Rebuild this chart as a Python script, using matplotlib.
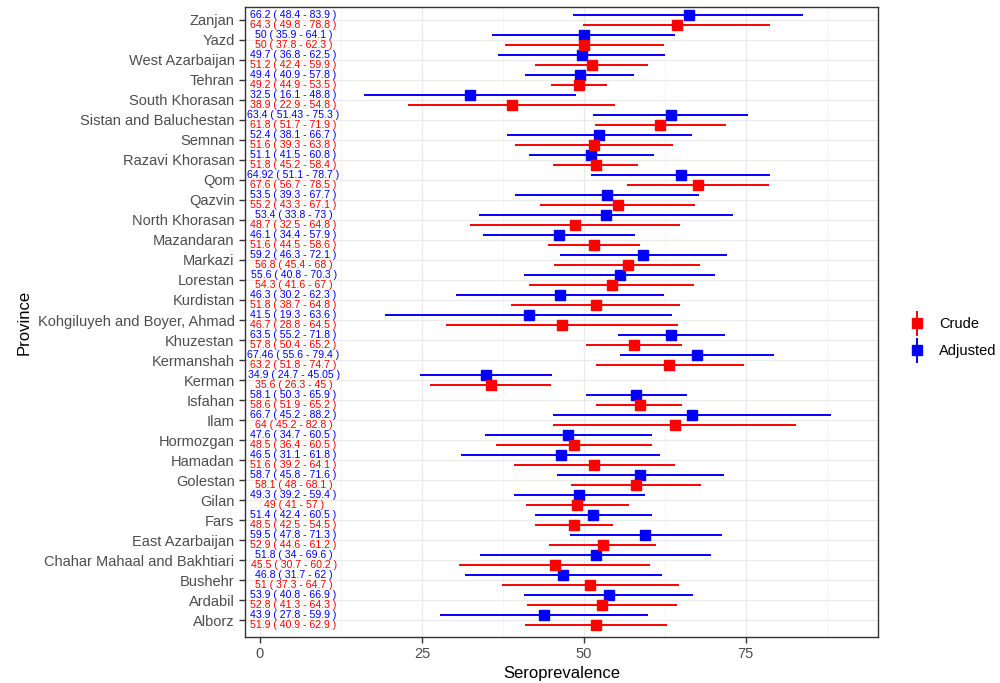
import matplotlib
matplotlib.use("Agg")
import matplotlib.pyplot as plt
from matplotlib.lines import Line2D
from matplotlib.legend_handler import HandlerTuple

plt.rcParams['font.family'] = ['Liberation Sans', 'DejaVu Sans']

# provinces in alphabetical order (bottom to top on the chart)
provinces = ["Alborz", "Ardabil", "Bushehr", "Chahar Mahaal and Bakhtiari",
             "East Azarbaijan", "Fars", "Gilan", "Golestan", "Hamadan",
             "Hormozgan", "Ilam", "Isfahan", "Kerman", "Kermanshah",
             "Khuzestan", "Kohgiluyeh and Boyer, Ahmad", "Kurdistan",
             "Lorestan", "Markazi", "Mazandaran", "North Khorasan", "Qazvin",
             "Qom", "Razavi Khorasan", "Semnan", "Sistan and Baluchestan",
             "South Khorasan", "Tehran", "West Azarbaijan", "Yazd", "Zanjan"]

adj = [43.9, 53.9, 46.8, 51.8, 59.5, 51.4, 49.3, 58.7, 46.5, 47.6, 66.7, 58.1,
       34.9, 67.46, 63.5, 41.5, 46.3, 55.6, 59.2, 46.1, 53.4, 53.5, 64.92, 51.1,
       52.4, 63.4, 32.5, 49.4, 49.7, 50, 66.2]
adj_lo = [27.8, 40.8, 31.7, 34, 47.8, 42.4, 39.2, 45.8, 31.1, 34.7, 45.2, 50.3,
          24.7, 55.6, 55.2, 19.3, 30.2, 40.8, 46.3, 34.4, 33.8, 39.3, 51.1, 41.5,
          38.1, 51.43, 16.1, 40.9, 36.8, 35.9, 48.4]
adj_hi = [59.9, 66.9, 62, 69.6, 71.3, 60.5, 59.4, 71.6, 61.8, 60.5, 88.2, 65.9,
          45.05, 79.4, 71.8, 63.6, 62.3, 70.3, 72.1, 57.9, 73, 67.7, 78.7, 60.8,
          66.7, 75.3, 48.8, 57.8, 62.5, 64.1, 83.9]

crude = [51.9, 52.8, 51, 45.5, 52.9, 48.5, 49, 58.1, 51.6, 48.5, 64, 58.6,
         35.6, 63.2, 57.8, 46.7, 51.8, 54.3, 56.8, 51.6, 48.7, 55.2, 67.6, 51.8,
         51.6, 61.8, 38.9, 49.2, 51.2, 50, 64.3]
crude_lo = [40.9, 41.3, 37.3, 30.7, 44.6, 42.5, 41, 48, 39.2, 36.4, 45.2, 51.9,
            26.3, 51.8, 50.4, 28.8, 38.7, 41.6, 45.4, 44.5, 32.5, 43.3, 56.7, 45.2,
            39.3, 51.7, 22.9, 44.9, 42.4, 37.8, 49.8]
crude_hi = [62.9, 64.3, 64.7, 60.2, 61.2, 54.5, 57, 68.1, 64.1, 60.5, 82.8, 65.2,
            45, 74.7, 65.2, 64.5, 64.8, 67, 68, 58.6, 64.8, 67.1, 78.5, 58.4,
            63.8, 71.9, 54.8, 53.5, 59.9, 62.3, 78.8]

RED = "#FF0000"
BLUE = "#0000FF"

fig = plt.figure(figsize=(10, 6.83), dpi=100)
ax = fig.add_axes([0.245, 0.0673, 0.633, 0.9225])

ys = range(1, len(provinces) + 1)
dodge = 0.25

for i, y in enumerate(ys):
    for val, lo, hi, col, off in [(adj[i], adj_lo[i], adj_hi[i], BLUE, dodge),
                                  (crude[i], crude_lo[i], crude_hi[i], RED, -dodge)]:
        ax.plot([lo, hi], [y + off, y + off], color=col, lw=1.4,
                solid_capstyle='butt', zorder=3)
        ax.plot([val], [y + off], marker='s', color=col, ms=7, ls='none', zorder=4)
        ax.text(5.2, y + off, f"{val:g} ( {lo:g} - {hi:g} )", color=col,
                fontsize=7.6, ha='center', va='center', zorder=5)

ax.set_xlim(-2.3, 95.4)
ax.set_ylim(0.15, 31.65)
ax.set_xticks([0, 25, 50, 75])
ax.set_xticks([12.5, 37.5, 62.5, 87.5], minor=True)
ax.set_yticks(list(ys))
ax.set_yticklabels(provinces)

ax.grid(True, which='major', color='#EBEBEB', lw=1.0, zorder=0)
ax.grid(True, which='minor', axis='x', color='#F3F3F3', lw=0.5, zorder=0)
ax.set_axisbelow(True)
for s in ax.spines.values():
    s.set_color('#333333')
    s.set_linewidth(1.0)
ax.tick_params(axis='both', which='major', colors='#333333', labelcolor='#4D4D4D',
               labelsize=10.5, length=4, width=1)
ax.tick_params(axis='both', which='minor', length=0)

ax.set_xlabel("Seroprevalence", fontsize=12, labelpad=3)
ax.set_ylabel("Province", fontsize=12, labelpad=4)

h_crude = (Line2D([], [], marker='|', ms=18, mew=1.4, color=RED, ls='none'),
           Line2D([], [], marker='s', ms=7, color=RED, ls='none'))
h_adj = (Line2D([], [], marker='|', ms=18, mew=1.4, color=BLUE, ls='none'),
         Line2D([], [], marker='s', ms=7, color=BLUE, ls='none'))
fig.legend([h_crude, h_adj], ["Crude", "Adjusted"],
           handler_map={tuple: HandlerTuple(ndivide=1)},
           loc='center left', bbox_to_anchor=(0.897, 0.506), frameon=False,
           fontsize=10.5, handlelength=1.0, labelspacing=0.9, handletextpad=1.0)

fig.savefig("out.png", dpi=100)
